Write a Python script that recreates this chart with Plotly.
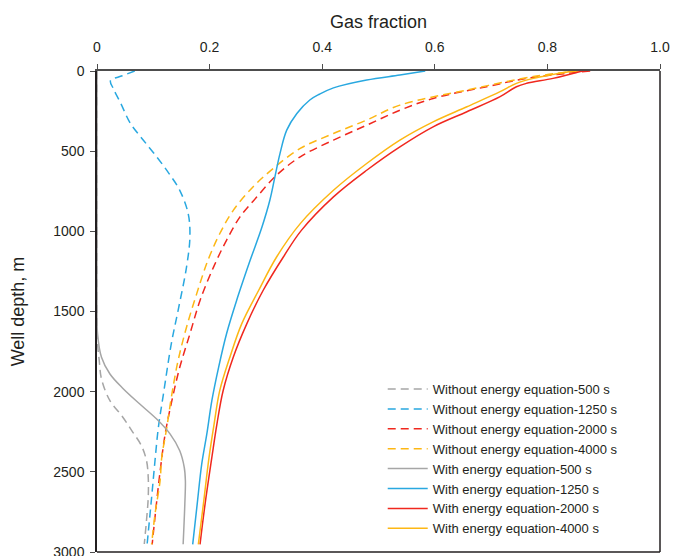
import plotly.graph_objects as go

# ---- data (gas fraction vs well depth) ----
names = [
    "Without energy equation-500 s",
    "Without energy equation-1250 s",
    "Without energy equation-2000 s",
    "Without energy equation-4000 s",
    "With energy equation-500 s",
    "With energy equation-1250 s",
    "With energy equation-2000 s",
    "With energy equation-4000 s",
]

wo500_d = [0, 500, 1000, 1500, 1700, 1806, 1921, 2056, 2150, 2244, 2338, 2431, 2535, 2660, 2800, 2950]
wo500_x = [0, 0, 0, 0, 0.001, 0.004, 0.008, 0.023, 0.044, 0.062, 0.079, 0.088, 0.091, 0.091, 0.088, 0.084]

wo1250_d = [0, 30, 60, 110, 200, 325, 430, 535, 640, 744, 890, 1035, 1223, 1494, 1700, 2015, 2223, 2431, 2660, 2952]
wo1250_x = [0.067, 0.045, 0.024, 0.029, 0.042, 0.059, 0.082, 0.106, 0.128, 0.147, 0.162, 0.165, 0.159, 0.144, 0.132, 0.118, 0.109, 0.103, 0.097, 0.089]

wo2000_d = [0, 15, 46, 98, 171, 245, 338, 431, 535, 650, 785, 910, 1056, 1223, 1431, 1640, 1848, 2056, 2265, 2500, 2750, 2952]
wo2000_x = [0.876, 0.834, 0.763, 0.692, 0.597, 0.538, 0.479, 0.420, 0.361, 0.319, 0.284, 0.254, 0.230, 0.207, 0.183, 0.165, 0.147, 0.133, 0.121, 0.112, 0.104, 0.098]

wo4000_d = [0, 35, 119, 213, 306, 390, 483, 608, 723, 869, 1015, 1181, 1390, 1598, 1806, 2015, 2223, 2410, 2556, 2765, 2952]
wo4000_x = [0.856, 0.775, 0.657, 0.538, 0.479, 0.420, 0.361, 0.313, 0.277, 0.242, 0.218, 0.197, 0.177, 0.159, 0.144, 0.133, 0.124, 0.115, 0.112, 0.103, 0.097]

w500_d = [0, 500, 1000, 1500, 1640, 1785, 1890, 1983, 2077, 2171, 2265, 2369, 2473, 2556, 2700, 2952]
w500_x = [0, 0, 0, 0, 0.001, 0.008, 0.023, 0.047, 0.076, 0.106, 0.130, 0.147, 0.155, 0.157, 0.156, 0.153]

w1250_d = [0, 25, 56, 105, 145, 181, 265, 369, 515, 660, 806, 973, 1181, 1431, 1640, 1848, 2056, 2265, 2452, 2700, 2952]
w1250_x = [0.583, 0.538, 0.479, 0.420, 0.395, 0.378, 0.355, 0.337, 0.325, 0.316, 0.307, 0.293, 0.272, 0.248, 0.230, 0.216, 0.204, 0.195, 0.186, 0.178, 0.170]

w2000_d = [0, 46, 77, 98, 160, 254, 348, 473, 619, 785, 994, 1160, 1369, 1577, 1785, 1994, 2202, 2410, 2700, 2952]
w2000_x = [0.862, 0.810, 0.763, 0.745, 0.716, 0.657, 0.597, 0.538, 0.479, 0.420, 0.363, 0.331, 0.295, 0.266, 0.242, 0.224, 0.213, 0.204, 0.192, 0.183]

w4000_d = [0, 46, 77, 129, 223, 317, 431, 577, 744, 952, 1160, 1369, 1577, 1785, 1994, 2202, 2410, 2700, 2952]
w4000_x = [0.846, 0.775, 0.745, 0.716, 0.657, 0.597, 0.538, 0.479, 0.420, 0.361, 0.319, 0.287, 0.257, 0.236, 0.218, 0.208, 0.199, 0.189, 0.180]

x_tickvals = [0, 0.2, 0.4, 0.6, 0.8, 1.0]
x_ticktext = ["0", "0.2", "0.4", "0.6", "0.8", "1.0"]
y_tickvals = [0, 500, 1000, 1500, 2000, 2500, 3000]

series = [
    (wo500_x, wo500_d), (wo1250_x, wo1250_d), (wo2000_x, wo2000_d), (wo4000_x, wo4000_d),
    (w500_x, w500_d), (w1250_x, w1250_d), (w2000_x, w2000_d), (w4000_x, w4000_d),
]
colors = ["#A6A6A6", "#29A8E0", "#F0281E", "#FDB714"] * 2
dashes = ["8px,5px"] * 4 + ["solid"] * 4

FONT = "Liberation Sans, Arial, sans-serif"

fig = go.Figure()
for (xs, ds), name, c, dsh in zip(series, names, colors, dashes):
    fig.add_trace(go.Scatter(
        x=xs, y=ds, name=name, mode="lines",
        line=dict(color=c, width=1.5, dash=dsh, shape="spline", smoothing=1.0),
    ))

fig.update_layout(
    width=688, height=556,
    margin=dict(l=97, r=28, t=71, b=4, autoexpand=False),
    paper_bgcolor="white", plot_bgcolor="white",
    font=dict(family=FONT, size=14, color="#231F20"),
    showlegend=True,
    legend=dict(
        x=0.5075, y=0.370, xanchor="left", yanchor="top",
        bgcolor="rgba(0,0,0,0)", borderwidth=0,
        font=dict(size=13, family=FONT, color="#231F20"),
        itemwidth=40, tracegroupgap=0,
    ),
    shapes=[
        dict(type="line", xref="paper", yref="paper", x0=0, x1=1, y0=0, y1=0,
             line=dict(color="#231F20", width=1.5), layer="below"),
        dict(type="line", xref="paper", yref="paper", x0=1, x1=1, y0=0, y1=1,
             line=dict(color="#231F20", width=1.5), layer="below"),
    ],
)
fig.update_xaxes(
    side="top", range=[0, 1], tickvals=x_tickvals, ticktext=x_ticktext,
    showgrid=False, zeroline=False, automargin=False,
    showline=True, linecolor="#4D4D4D", linewidth=1.5, mirror=False,
    ticks="outside", ticklen=5, tickwidth=1.2, tickcolor="#4D4D4D",
    tickfont=dict(size=14), ticklabelstandoff=7,
    title=dict(text="Gas fraction", font=dict(size=18), standoff=5),
    layer="below traces",
)
fig.update_yaxes(
    range=[3000, 0], tickvals=y_tickvals,
    showgrid=False, zeroline=False, automargin=False,
    showline=True, linecolor="#231F20", linewidth=1.5, mirror=False,
    ticks="outside", ticklen=5, tickwidth=1.2, tickcolor="#4D4D4D",
    tickfont=dict(size=14), ticklabelstandoff=3, ticklabeloverflow="allow",
    title=dict(text="Well depth, m", font=dict(size=18), standoff=24),
    layer="below traces",
)

fig.write_html("out.html")
